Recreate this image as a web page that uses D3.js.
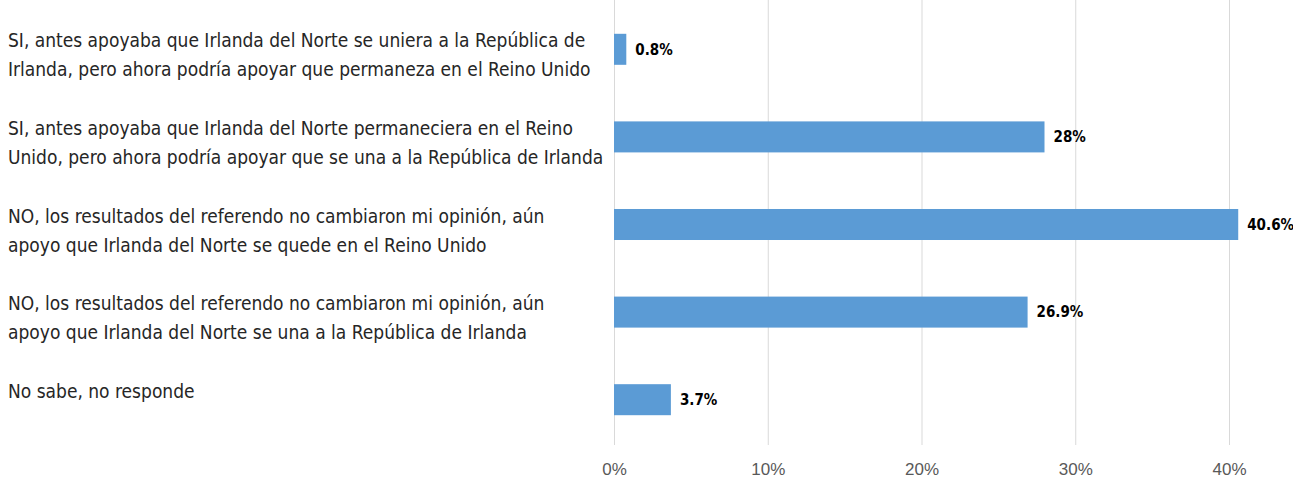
<!DOCTYPE html>
<html>
<head>
<meta charset="utf-8">
<script src="https://cdn.jsdelivr.net/npm/d3@7"></script>
<style>
  body { margin: 0; background: #fff; }
  svg { display: block; font-family: "DejaVu Sans Condensed", "Liberation Sans Narrow", sans-serif; }
  .cat-label { fill: #262626; font-size: 19px; }
  .bar { fill: #5b9bd5; }
  .bar-label { fill: #000; font-size: 15px; font-weight: bold; }
  .x-axis .tick line { stroke: #d9d9d9; }
  .x-axis .tick text { fill: #595959; font-size: 17px; }
  .x-axis .domain { display: none; }
</style>
</head>
<body>
<div id="content"></div>
<script>
const CATEGORIES = [
    ['SI, antes apoyaba que Irlanda del Norte se uniera a la República de', 'Irlanda, pero ahora podría apoyar que permaneza en el Reino Unido'],
    ['SI, antes apoyaba que Irlanda del Norte permaneciera en el Reino', 'Unido, pero ahora podría apoyar que se una a la República de Irlanda'],
    ['NO, los resultados del referendo no cambiaron mi opinión, aún', 'apoyo que Irlanda del Norte se quede en el Reino Unido'],
    ['NO, los resultados del referendo no cambiaron mi opinión, aún', 'apoyo que Irlanda del Norte se una a la República de Irlanda'],
    ['No sabe, no responde']
];
const VALUES = [0.8, 28, 40.6, 26.9, 3.7];
const VALUE_LABELS = ['0.8%', '28%', '40.6%', '26.9%', '3.7%'];
const TICKS = [0, 10, 20, 30, 40];
const TICK_LABELS = ['0%', '10%', '20%', '30%', '40%'];

var width = 1293;
var height = 480;
var gridBottom = 445;

var svg = d3.select('#content')
.append('svg')
.attr('width', width)
.attr('height', height);

var xScale = d3.scaleLinear()
.domain([0, 40])
.range([614, 1229]);

var yScale = d3.scaleBand()
.domain(d3.range(VALUES.length))
.range([-10, 459])
.paddingInner(0.646)
.paddingOuter(0.5);

var xAxis = d3.axisBottom()
.scale(xScale)
.tickValues(TICKS)
.tickFormat(function (d, i) {return TICK_LABELS[i];})
.tickSizeInner(-gridBottom)
.tickSizeOuter(0)
.tickPadding(18);

svg.append('g')
.attr('class', 'x-axis')
.attr('transform', 'translate(0, ' + gridBottom + ')')
.call(xAxis);

svg.selectAll('rect.bar')
.data(VALUES)
.enter()
.append('rect')
.attr('class', 'bar')
.attr('x', xScale(0))
.attr('y', function (v, i) {return yScale(i);})
.attr('width', function (v) {return xScale(v) - xScale(0);})
.attr('height', yScale.bandwidth());

svg.selectAll('.bar-label')
.data(VALUES)
.enter()
.append('text')
.attr('class', 'bar-label')
.attr('x', function (v) {return xScale(v) + 9;})
.attr('y', function (v, i) {return yScale(i) + yScale.bandwidth() / 2;})
.attr('dy', '0.35em')
.text(function (v, i) {return VALUE_LABELS[i];});

var labels = svg.selectAll('.cat-label')
.data(CATEGORIES)
.enter()
.append('text')
.attr('class', 'cat-label')
.attr('x', 8)
.attr('y', function (c, i) {return yScale(i) + yScale.bandwidth() / 2 - 2;})
.attr('dy', '0.35em');

labels.selectAll('tspan')
.data(function (c) {return c;})
.enter()
.append('tspan')
.attr('x', 8)
.attr('dy', function (l, j) {return j === 0 ? 0 : 29;})
.text(function (l) {return l;});
</script>
</body>
</html>
